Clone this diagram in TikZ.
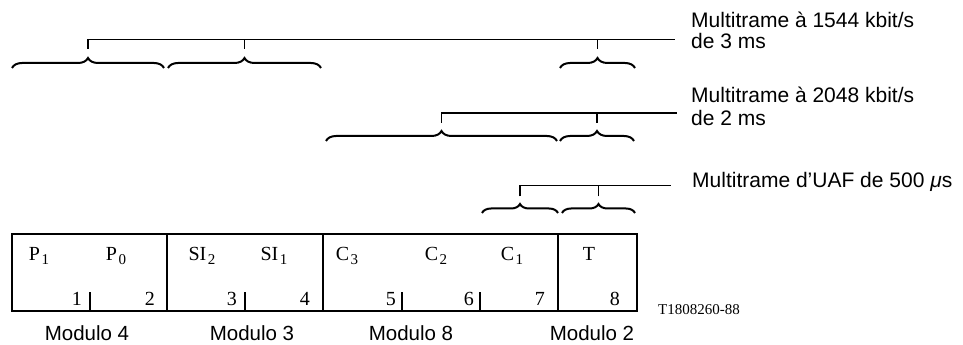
\documentclass[tikz,border=0pt]{standalone}
\usepackage{fontspec}
\newfontfamily\sansf{Liberation Sans}
\newfontfamily\serf{Liberation Serif}
\newcommand{\cellsub}[1]{\hspace{1.5pt}\raisebox{-4pt}{\fontsize{15}{15}\selectfont #1}}
\usetikzlibrary{decorations.pathreplacing}
\begin{document}
\begin{tikzpicture}[x=1pt,y=1pt,
  lbl/.style={font=\sansf\fontsize{21}{21}\selectfont, inner sep=0pt, anchor=base west},
  modl/.style={font=\sansf\fontsize{20.5}{20.5}\selectfont, inner sep=0pt, anchor=base},
  cell/.style={font=\serf\fontsize{20}{20}\selectfont, inner sep=0pt, anchor=base},
  num/.style={font=\serf\fontsize{20}{20}\selectfont, inner sep=0pt, anchor=base east},
  ref/.style={font=\serf\fontsize{15}{15}\selectfont, inner sep=0pt, anchor=base west},
  brc/.style={decorate, decoration={brace, amplitude=#1}, line width=2pt},
  ln/.style={line width=1.3pt},
  boxln/.style={line width=1.5pt},
]
\useasboundingbox (0,0) rectangle (963,345);

% frame
\node[draw, boxln, minimum width=625pt, minimum height=77pt, inner sep=0pt, anchor=south west] (frame) at (11,33) {};
% full dividers
\coordinate (d1b) at (167,33); \coordinate (d1t) at (167,110);
\coordinate (d2b) at (323,33); \coordinate (d2t) at (323,110);
\coordinate (d3b) at (558,33); \coordinate (d3t) at (558,110);
\draw[boxln] (d1b) -- (d1t);
\draw[boxln] (d2b) -- (d2t);
\draw[boxln] (d3b) -- (d3t);
% half ticks
\coordinate (h1b) at (90,33);  \coordinate (h1t) at (90,53);
\coordinate (h2b) at (245,33); \coordinate (h2t) at (245,53);
\coordinate (h3b) at (402,33); \coordinate (h3t) at (402,53);
\coordinate (h4b) at (480,33); \coordinate (h4t) at (480,53);
\draw[boxln] (h1b) -- (h1t);
\draw[boxln] (h2b) -- (h2t);
\draw[boxln] (h3b) -- (h3t);
\draw[boxln] (h4b) -- (h4t);

% cell labels
\node[cell] (p1) at (39,84) {P\cellsub{1}};
\node[cell] (p0) at (116,84) {P\cellsub{0}};
\node[cell] (si2) at (202,84) {SI\cellsub{2}};
\node[cell] (si1) at (274,84) {SI\cellsub{1}};
\node[cell] (c3) at (347,84) {C\cellsub{3}};
\node[cell] (c2) at (436,84) {C\cellsub{2}};
\node[cell] (c1) at (512,84) {C\cellsub{1}};
\node[cell] (tt) at (589,84) {T};
% numbers
\node[num] (n1) at (82,39) {1};
\node[num] (n2) at (155,39) {2};
\node[num] (n3) at (237,39) {3};
\node[num] (n4) at (310,39) {4};
\node[num] (n5) at (396,39) {5};
\node[num] (n6) at (474,39) {6};
\node[num] (n7) at (545,39) {7};
\node[num] (n8) at (620,39) {8};
% modulo
\node[modl] (m4) at (87,4) {Modulo 4};
\node[modl] (m3) at (252,4) {Modulo 3};
\node[modl] (m8) at (411,4) {Modulo 8};
\node[modl] (m2) at (592,4) {Modulo 2};
\node[ref] (refno) at (658,30) {T1808260-88};

% row 1
\coordinate (a1) at (12,277);  \coordinate (b1) at (164,277);
\coordinate (a2) at (168,277); \coordinate (b2) at (321,277);
\coordinate (a3) at (560,277); \coordinate (b3) at (635,277);
\draw[brc=10pt] (a1) -- (b1);
\draw[brc=10pt] (a2) -- (b2);
\draw[brc=10pt] (a3) -- (b3);
\coordinate (r1s) at (88,296); \coordinate (r1e) at (675,305.5);
\coordinate (r1k1) at (244.5,296); \coordinate (r1k2) at (597.5,296);
\draw[ln] (r1s) |- (r1e);
\draw[ln] (r1k1) -- (r1k1 |- r1e);
\draw[ln] (r1k2) -- (r1k2 |- r1e);
\node[lbl] (t1a) at (691,317) {Multitrame à 1544 kbit/s};
\node[lbl] (t1b) at (691,296) {de 3 ms};

% row 2
\coordinate (a4) at (326,204); \coordinate (b4) at (557,204);
\coordinate (a5) at (560,204); \coordinate (b5) at (634,204);
\draw[brc=10pt] (a4) -- (b4);
\draw[brc=10pt] (a5) -- (b5);
\coordinate (r2s) at (441.5,222); \coordinate (r2e) at (677,232);
\coordinate (r2k) at (597,222);
\draw[ln] (r2s) |- (r2e);
\draw[ln] (r2k) -- (r2k |- r2e);
\node[lbl] (t2a) at (691,242) {Multitrame à 2048 kbit/s};
\node[lbl] (t2b) at (691,219) {de 2 ms};

% row 3
\coordinate (a6) at (482,132); \coordinate (b6) at (558,132);
\coordinate (a7) at (562,132); \coordinate (b7) at (635,132);
\draw[brc=9pt] (a6) -- (b6);
\draw[brc=9pt] (a7) -- (b7);
\coordinate (r3s) at (520,148.5); \coordinate (r3e) at (671,159.5);
\coordinate (r3k) at (598.5,148.5);
\draw[ln] (r3s) |- (r3e);
\draw[ln] (r3k) -- (r3k |- r3e);
\node[lbl] (t3) at (692,157) {Multitrame d’UAF de 500 \textit{μ}s};
\end{tikzpicture}
\end{document}
